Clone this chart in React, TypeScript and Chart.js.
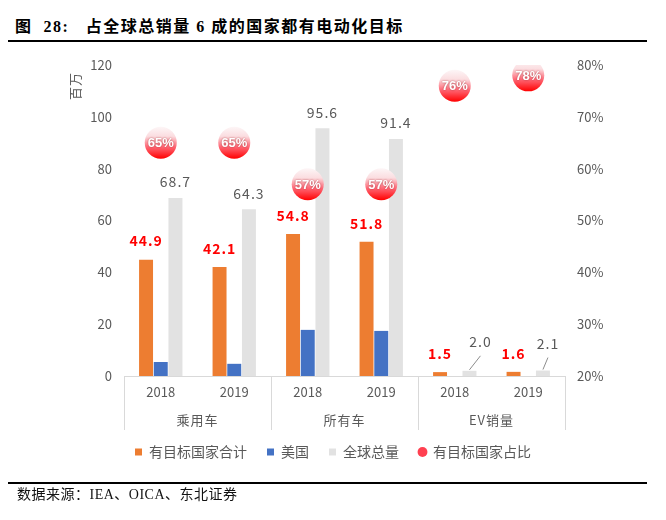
import React, { useEffect, useRef } from 'react';
import { Chart, registerables } from 'chart.js';

Chart.register(...registerables);

const categories = ['2018', '2019', '2018', '2019', '2018', '2019'];
const groups = ['乘用车', '所有车', 'EV销量'];
const targetTotal = [44.9, 42.1, 54.8, 51.8, 1.5, 1.6];
const usa = [5.4, 4.7, 17.8, 17.4, 0, 0];
const globalTotal = [68.7, 64.3, 95.6, 91.4, 2.0, 2.1];
const targetShare = [65, 65, 57, 57, 76, 78];
const seriesNames = ['有目标国家合计', '美国', '全球总量', '有目标国家占比'];
const leftAxisTitle = '百万';
const titleText = '图  28:   占全球总销量 6 成的国家都有电动化目标';
const sourceText = '数据来源：IEA、OICA、东北证券';

const GRAY_TEXT = '#595959';
const SANS = '"Noto Sans CJK SC", "Noto Sans", sans-serif';

const decorPlugin = {
  id: 'decor',
  afterDraw(chart: any) {
    const ctx = chart.ctx;
    const xs = chart.scales.x;
    const top = xs.top;
    const w = (xs.right - xs.left) / categories.length;
    ctx.save();
    ctx.strokeStyle = '#d9d9d9';
    ctx.lineWidth = 1;
    for (let k = 0; k <= groups.length; k++) {
      const x = Math.round(xs.left + k * 2 * w) + 0.5;
      ctx.beginPath();
      ctx.moveTo(x, top);
      ctx.lineTo(x, top + 54);
      ctx.stroke();
    }
    ctx.fillStyle = GRAY_TEXT;
    ctx.font = '13px ' + SANS;
    (ctx as any).letterSpacing = '1px';
    ctx.textAlign = 'center';
    ctx.textBaseline = 'middle';
    groups.forEach((g, k) => {
      const cx = xs.left + (k * 2 + 1) * w;
      ctx.fillText(g, cx, top + 44);
    });
    ctx.translate(75, 86);
    ctx.rotate(-Math.PI / 2);
    ctx.fillText(leftAxisTitle, 0, 0);
    ctx.restore();
  },
  afterDatasetsDraw(chart: any) {
    const ctx = chart.ctx;
    ctx.save();
    ctx.textAlign = 'center';
    ctx.textBaseline = 'middle';
    const m0 = chart.getDatasetMeta(0);
    ctx.fillStyle = '#ff0000';
    ctx.font = 'bold 14px ' + SANS;
    (ctx as any).letterSpacing = '1px';
    m0.data.forEach((el: any, i: number) => {
      ctx.fillText(targetTotal[i].toFixed(1), el.x, el.y - 18.5);
    });
    const m2 = chart.getDatasetMeta(2);
    ctx.fillStyle = GRAY_TEXT;
    ctx.font = '14px ' + SANS;
    m2.data.forEach((el: any, i: number) => {
      const txt = globalTotal[i].toFixed(1);
      if (i >= 4) {
        const dx = i === 4 ? 11 : 5;
        const dy = i === 4 ? -29 : -27;
        ctx.strokeStyle = '#8c8c8c';
        ctx.lineWidth = 1;
        ctx.beginPath();
        ctx.moveTo(el.x, el.y - 1);
        ctx.lineTo(el.x + dx, el.y + dy + 14);
        ctx.stroke();
        ctx.fillText(txt, el.x + dx, el.y + dy);
      } else {
        ctx.fillText(txt, el.x, el.y - 16);
      }
    });
    const m3 = chart.getDatasetMeta(3);
    ctx.font = 'bold 13px "Liberation Sans", Arial, sans-serif';
    (ctx as any).letterSpacing = '0px';
    ctx.fillStyle = '#ffffff';
    ctx.shadowColor = 'rgba(110,0,0,0.55)';
    ctx.shadowBlur = 2;
    m3.data.forEach((el: any, i: number) => {
      ctx.fillText(targetShare[i] + '%', el.x, el.y + 1);
    });
    ctx.restore();
  },
};

function bubbleFill(c: any) {
  if (c.type !== 'data' || !c.chart.scales || !c.chart.scales.y1) return '#ff2a2a';
  const y = c.chart.scales.y1.getPixelForValue(c.raw);
  if (!isFinite(y)) return '#ff2a2a';
  const g = c.chart.ctx.createLinearGradient(0, y - 16, 0, y + 16);
  g.addColorStop(0, '#fdf6f7');
  g.addColorStop(0.3, '#fbdde0');
  g.addColorStop(0.62, '#ff6a78');
  g.addColorStop(1, '#ff0000');
  return g;
}

export default function App() {
  const ref = useRef<HTMLCanvasElement | null>(null);
  useEffect(() => {
    if (!ref.current) return;
    const chart = new Chart(ref.current, {
      type: 'bar',
      data: {
        labels: categories,
        datasets: [
          { type: 'bar', label: seriesNames[0], data: targetTotal, backgroundColor: '#ed7d31', yAxisID: 'y', order: 2, categoryPercentage: 0.6, barPercentage: 0.95 },
          { type: 'bar', label: seriesNames[1], data: usa, backgroundColor: '#4472c4', yAxisID: 'y', order: 2, categoryPercentage: 0.6, barPercentage: 0.95 },
          { type: 'bar', label: seriesNames[2], data: globalTotal, backgroundColor: '#e2e2e2', yAxisID: 'y', order: 2, categoryPercentage: 0.6, barPercentage: 0.95 },
          {
            type: 'line', label: seriesNames[3], data: targetShare, yAxisID: 'y1', order: 0,
            showLine: false, pointRadius: 16, pointHoverRadius: 16, pointBorderWidth: 0,
            pointBackgroundColor: bubbleFill as any, backgroundColor: '#ff2a2a', borderColor: 'rgba(0,0,0,0)',
          } as any,
        ],
      },
      options: {
        responsive: false,
        animation: false,
        layout: { padding: { top: 65, left: 0, right: 0, bottom: 51 } },
        plugins: {
          tooltip: { enabled: false },
          legend: {
            position: 'bottom',
            labels: {
              usePointStyle: true,
              boxWidth: 7,
              boxHeight: 7,
              padding: 20,
              color: GRAY_TEXT,
              font: { size: 14, family: SANS },
              generateLabels: () => [
                { text: seriesNames[0], fillStyle: '#ed7d31', strokeStyle: '#ed7d31', lineWidth: 0, pointStyle: 'rect', hidden: false, datasetIndex: 0, fontColor: GRAY_TEXT },
                { text: seriesNames[1], fillStyle: '#4472c4', strokeStyle: '#4472c4', lineWidth: 0, pointStyle: 'rect', hidden: false, datasetIndex: 1, fontColor: GRAY_TEXT },
                { text: seriesNames[2], fillStyle: '#e2e2e2', strokeStyle: '#e2e2e2', lineWidth: 0, pointStyle: 'rect', hidden: false, datasetIndex: 2, fontColor: GRAY_TEXT },
                { text: seriesNames[3], fillStyle: '#ff4050', strokeStyle: '#ff4050', lineWidth: 0, pointStyle: 'circle', hidden: false, datasetIndex: 3, fontColor: GRAY_TEXT },
              ] as any,
            },
          },
        },
        scales: {
          x: {
            type: 'category',
            grid: { display: false, drawTicks: false },
            border: { display: true, color: '#d9d9d9' },
            ticks: { color: GRAY_TEXT, font: { size: 13, family: SANS }, padding: 8, maxRotation: 0, autoSkip: false },
            afterFit: (s: any) => { s.height = 49; },
          },
          y: {
            position: 'left',
            min: 0,
            max: 120,
            grid: { display: false, drawTicks: false },
            border: { display: false },
            ticks: { stepSize: 20, color: GRAY_TEXT, font: { size: 13, family: SANS }, padding: 12 },
            afterFit: (s: any) => { s.width = 124; },
          },
          y1: {
            position: 'right',
            min: 20,
            max: 80,
            grid: { display: false, drawTicks: false },
            border: { display: false },
            ticks: { stepSize: 10, color: GRAY_TEXT, font: { size: 13, family: SANS }, padding: 12, callback: (v: any) => v + '%' },
            afterFit: (s: any) => { s.width = 101; },
          },
        },
      } as any,
      plugins: [decorPlugin],
    });
    return () => chart.destroy();
  }, []);

  return (
    <div style={{ position: 'fixed', left: 0, top: 0, width: 666, height: 520, background: '#fff', overflow: 'hidden' }}>
      <div style={{ position: 'absolute', left: 15, top: 17, font: 'bold 16px "Liberation Serif", "Noto Sans CJK SC", serif', lineHeight: '20px', letterSpacing: '1.5px', whiteSpace: 'pre', color: '#000' }}>
        {titleText}
      </div>
      <div style={{ position: 'absolute', left: 8, top: 40, width: 639, height: 2, background: '#000' }} />
      <canvas ref={ref} width={666} height={520} style={{ position: 'absolute', left: 0, top: 0, width: 666, height: 520 }} />
      <div style={{ position: 'absolute', left: 8, top: 482, width: 639, height: 2, background: '#000' }} />
      <div style={{ position: 'absolute', left: 17, top: 486, font: '14px "Liberation Serif", "Noto Sans CJK SC", serif', lineHeight: '18px', letterSpacing: '0.5px', whiteSpace: 'pre', color: '#111' }}>
        {sourceText}
      </div>
    </div>
  );
}
